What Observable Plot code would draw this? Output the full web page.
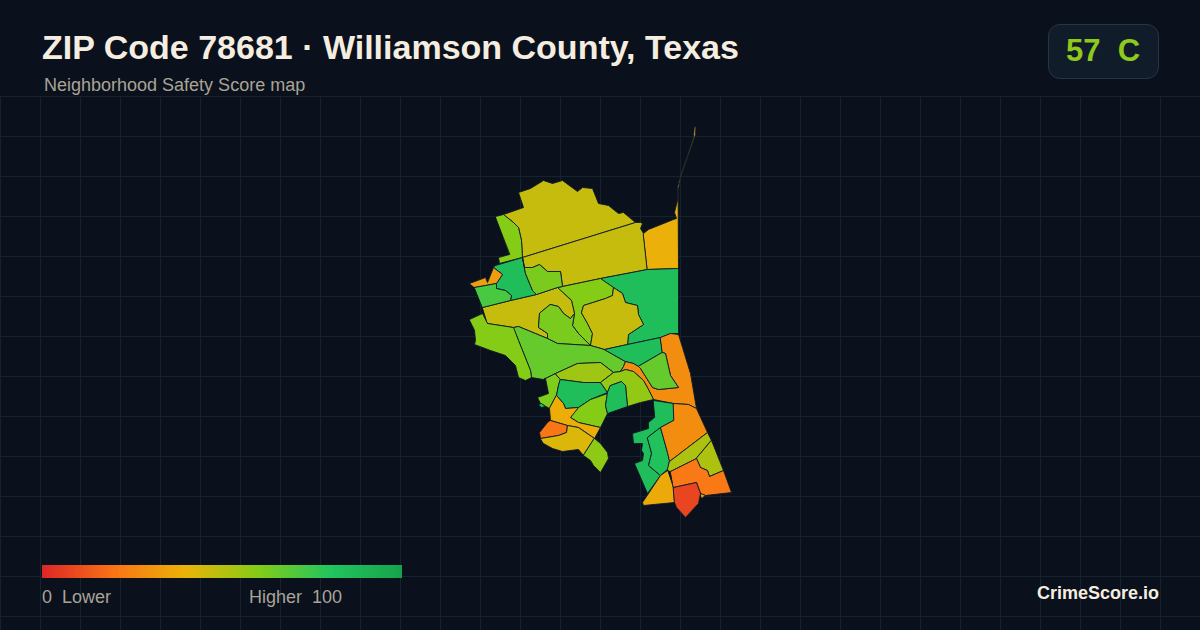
<!DOCTYPE html>
<html><head><meta charset="utf-8">
<script src="https://cdn.jsdelivr.net/npm/d3@7"></script>
<script src="https://cdn.jsdelivr.net/npm/@observablehq/plot@0.6"></script>
<style>
html,body{margin:0;padding:0;background:#0a111c;width:1200px;height:630px;overflow:hidden;font-family:"Liberation Sans",Arial,sans-serif}
#page{position:relative;width:1200px;height:630px}
#grid,#map{position:absolute;left:0;top:96px;width:1200px;height:534px}
#grid svg,#map svg,#bar svg{display:block}
.t{position:absolute;white-space:pre;line-height:1}
#title{left:42px;top:30px;font-size:34px;font-weight:700;color:#f5ede0}
#sub{left:44px;top:76px;font-size:18px;color:#a9a397}
#badge{position:absolute;left:1048px;top:24px;width:109px;height:53px;border:1px solid #263545;border-radius:12px;background:#111c2a}
#score{left:1066px;top:35px;font-size:31px;font-weight:700;color:#8fc91c}
#bar{position:absolute;left:42px;top:565px;width:360px;height:13px}
#lo{left:42px;top:588px;font-size:18px;color:#a9a397}
#hi{left:249px;top:588px;font-size:18px;color:#a9a397}
#brand{left:1037px;top:584px;font-size:18px;font-weight:700;color:#f5ede0}
</style></head><body>
<div id="page">
<div id="grid"></div>
<div id="map"></div>
<div id="bar"></div>
<div class="t" id="title">ZIP Code 78681 · Williamson County, Texas</div>
<div class="t" id="sub">Neighborhood Safety Score map</div>
<div id="badge"></div><div class="t" id="score">57  C</div>
<div class="t" id="lo">0  Lower</div><div class="t" id="hi">Higher  100</div>
<div class="t" id="brand">CrimeScore.io</div>
</div>
<script>
// colour ramp
const rampStops = [0,20,40,60,80,100];
const rampColors = ["#dc2626","#f97316","#eab308","#84cc16","#22c55e","#16a34a"];
// neighbourhood outlines (map units) with their scores
const northBig = [[503,214],[523,207],[518,192],[530,188],[543,180],[552,183],[562,180],[577,191],[582,187],[592,188],[598,203],[608,205],[618,213],[623,212],[635,222],[522,257],[521,240],[518,227],[513,222]];
const westStrip = [[495,216],[503,214],[513,222],[518,227],[521,240],[522,257],[499,263],[498,257],[509,254]];
const northMid = [[522,257],[635,222],[640,222],[642,223],[640,228],[643,233],[647,269],[600,278],[562,286],[560,271],[547,271],[539,264],[532,267],[524,267]];
const northEast = [[643,233],[648,229],[673,219],[676,218],[674,212],[677,200],[677,187],[680,175],[688,152],[693,137],[693.8,127],[695.4,126],[695,134],[688.6,152.5],[680.6,175.5],[677.6,190],[678,268],[647,269]];
const eastLarge = [[600,278],[647,269],[678,268],[678,333],[670,333],[660,337],[627,344],[628,334],[643,324],[638,314],[637,305],[625,302],[622,293],[613,287]];
const midNorth = [[557,287],[562,286],[600,278],[613,287],[612,295],[605,298],[583,305],[581,312],[587,323],[592,333],[590,345],[578,333],[572,325],[574,313],[571,300]];
const midBlob = [[581,312],[583,305],[605,298],[612,295],[613,287],[622,293],[625,302],[637,305],[638,314],[643,324],[628,334],[627,344],[604,349],[590,345],[592,333],[587,323]];
const midWest = [[482,307],[510,300],[536,294],[557,287],[571,300],[574,313],[570,318],[563,313],[558,306],[550,304],[539,313],[538,327],[547,333],[547,338],[518,326],[513,327],[487,323]];
const midInner = [[550,304],[558,306],[563,313],[570,318],[574,313],[572,325],[578,333],[590,345],[557,343],[547,338],[547,333],[538,327],[539,313]];
const midSouth = [[513,327],[518,326],[547,338],[557,343],[590,345],[604,349],[625,361],[623,366],[620,371],[613,372],[600,362],[577,363],[555,373],[543,379],[531,377],[530,370],[518,340]];
const westSouth = [[469,319],[482,313],[487,323],[513,327],[518,340],[530,370],[531,377],[525,380],[518,377],[515,365],[505,355],[490,350],[474,344],[475,340],[474,330]];
const westGreen = [[495,265],[522,257],[525,273],[532,290],[536,294],[510,300],[511,295],[505,290],[496,288],[496,283],[502,274],[493,267]];
const westOrange = [[469,283],[485,277],[487,282],[493,267],[502,274],[496,283],[474,287]];
const westLime = [[474,287],[496,283],[496,288],[505,290],[511,295],[510,300],[482,307]];
const innerGreen = [[522,257],[524,267],[532,267],[539,264],[547,271],[560,271],[562,286],[557,287],[536,294],[532,290],[525,273]];
const southStub = [[543,379],[555,373],[560,379],[558,385],[556,395],[549,408],[540,403],[537,397],[548,393],[545,378]];
const stubTeal = [[538,404],[541,403],[545,406],[541,407]];
const southLime = [[555,373],[577,363],[600,362],[613,372],[600,382],[583,382],[560,379]];
const southGreen = [[560,379],[583,382],[600,382],[607,392],[590,399],[578,407],[565,408],[563,403],[556,395],[558,385]];
const southCore = [[578,407],[590,399],[607,393],[605,405],[607,413],[600,427],[578,422],[570,417]];
const southAmber = [[556,395],[563,403],[565,408],[578,407],[570,417],[578,422],[600,427],[594,438],[578,427],[567,425],[550,420],[549,408]];
const southRed = [[550,420],[567,425],[566,432],[558,435],[540,438],[539,432],[547,422]];
const southGold = [[540,438],[558,435],[566,432],[567,425],[578,427],[594,438],[583,455],[578,449],[562,451],[552,448],[543,443]];
const southTip = [[594,438],[600,443],[607,452],[608,458],[600,472],[593,465],[590,460],[583,455]];
const lakeEast = [[604,349],[627,344],[660,337],[662,352],[638,366],[633,363],[625,361]];
const stripOrange = [[660,337],[670,333],[678,334],[682,347],[690,373],[696,408],[688,404],[673,403],[653,399],[648,389],[643,380],[633,371],[625,369],[620,371],[623,366],[625,361],[633,363],[638,366],[640,368],[652,387],[658,389],[678,387],[670,375],[665,353],[662,352]];
const stripGreen = [[662,352],[665,353],[670,375],[678,387],[658,389],[652,387],[640,368],[638,366]];
const lakeLime = [[620,371],[625,369],[633,371],[643,380],[648,389],[653,399],[640,402],[627,406],[625,385],[621,381],[610,385],[607,392],[600,382],[613,372]];
const lakeGreen = [[610,385],[621,381],[625,385],[627,406],[607,413],[605,405],[607,392]];
const coveOuter = [[653,400],[673,403],[673,420],[660,427],[647,437],[651,453],[648,465],[660,475],[647,493],[634,463],[642,460],[643,453],[641,450],[642,443],[633,443],[632,433],[648,428],[648,422],[654,417]];
const coveInner = [[647,437],[660,427],[667,452],[669,460],[668,468],[660,475],[648,465],[651,453]];
const eastOrange = [[673,403],[688,404],[696,408],[707,432],[669,461],[667,452],[660,427],[673,420]];
const seAmber = [[667,470],[660,475],[642,502],[643,505],[674,502],[673,487]];
const seBand = [[669,461],[707,432],[711,440],[696,458],[670,471],[667,470]];
const seOlive = [[711,440],[723,470],[709,476],[707,470],[700,467],[696,458]];
const seOrange = [[670,471],[696,458],[700,467],[707,470],[709,476],[723,470],[731,492],[705,495],[700,493],[696,482],[673,487]];
const seSliver = [[700,493],[705,495],[701,498]];
const seRed = [[673,487],[696,482],[700,493],[698,503],[685,517],[676,507],[674,502]];

const outlines = [northBig,westStrip,northMid,northEast,eastLarge,midNorth,midBlob,midWest,midInner,midSouth,westSouth,westGreen,westOrange,westLime,innerGreen,southStub,stubTeal,southLime,southGreen,southCore,southAmber,southRed,southGold,southTip,lakeEast,stripOrange,stripGreen,lakeLime,lakeGreen,coveOuter,coveInner,eastOrange,seAmber,seBand,seOlive,seOrange,seSliver,seRed];
const scores =   [47,60,47,39,84,60,47,47,62,66,60,84,33,72,62,61,85,55,84,60,38,21,43,58,84,28,66,57,84,84,82,28,37,52,52,22,38,8];

const features = outlines.map((ring,i)=>({type:"Feature",properties:{score:scores[i]},geometry:{type:"Polygon",coordinates:[[...ring,ring[0]]]}}));
const colorScale = {type:"linear",domain:rampStops,range:rampColors,interpolate:"rgb"};

const frame = {type:"MultiPoint",coordinates:[[0,96],[1200,630]]};
const gridX = d3.range(0,1201,40);
const gridY = d3.range(96,631,40);
document.getElementById("grid").append(Plot.plot({
  width:1200,height:534,margin:0,
  style:{background:"transparent"},
  x:{domain:[0,1200],axis:null},
  y:{domain:[630,96],axis:null},
  marks:[
    Plot.ruleX(gridX,{stroke:"#15232f",strokeWidth:1}),
    Plot.ruleY(gridY,{stroke:"#15232f",strokeWidth:1})
  ]
}));
document.getElementById("map").append(Plot.plot({
  width:1200,height:534,margin:0,
  style:{background:"transparent",overflow:"visible"},
  color:colorScale,
  projection:{type:()=>d3.geoIdentity(),domain:frame},
  marks:[
    Plot.geo(features,{fill:d=>d.properties.score,stroke:"#0f1b28",strokeWidth:0.9,strokeLinejoin:"round"})
  ]
}));
const rampValues = d3.range(0,100,0.5);
document.getElementById("bar").append(Plot.plot({
  width:360,height:13,margin:0,
  style:{background:"transparent"},
  x:{domain:[0,100],axis:null},
  y:{axis:null},
  color:colorScale,
  marks:[Plot.rectY(rampValues,{x1:d=>d,x2:d=>d+0.5,y1:0,y2:1,fill:d=>d+0.25,shapeRendering:"crispEdges"})]
}));
</script>
</body></html>
